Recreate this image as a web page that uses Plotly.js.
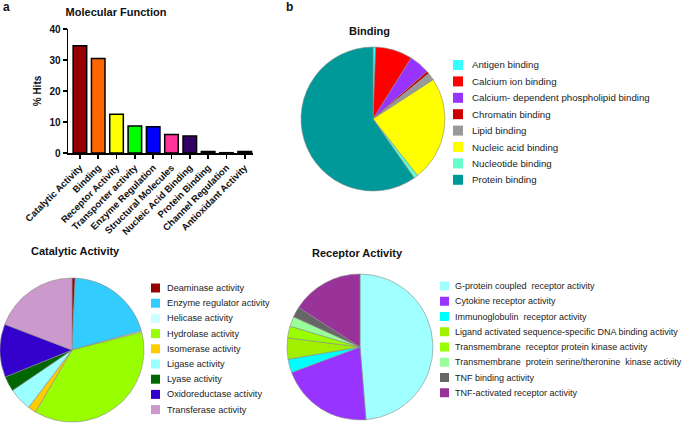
<!DOCTYPE html>
<html>
<head>
<meta charset="utf-8">
<script src="https://cdn.plot.ly/plotly-3.0.1.min.js"></script>
<style>html,body{margin:0;padding:0;background:#fff;} #chart{width:685px;height:426px;}</style>
</head>
<body>
<div id="chart"></div>
<script>
// ---- Molecular Function (bar) ----
const mfCategories = ["Catalytic Activity", "Binding", "Receptor Activity", "Transporter activity",
  "Enzyme Regulation", "Structural Molecules", "Nucleic Acid Binding", "Protein Binding",
  "Channel Regulation", "Antioxidant Activity"];
const mfValues = [34.6, 30.5, 12.5, 8.7, 8.5, 6.0, 5.5, 0.5, 0.1, 0.5];
const mfColors = ["#990000", "#ff6600", "#ffff00", "#00ff00", "#0000ff", "#ff3399", "#330066", "#000000", "#000000", "#000000"];
const mfTicks = [0, 10, 20, 30, 40];

// ---- Binding (pie) ----
const bindLabels = ["Antigen binding", "Calcium ion binding", "Calcium- dependent phospholipid binding",
  "Chromatin binding", "Lipid binding", "Nucleic acid binding", "Nucleotide binding", "Protein binding"];
const bindValues = [0.6, 8.3, 4.6, 0.6, 1.7, 23.6, 0.9, 59.7];
const bindColors = ["#33ffff", "#ff0000", "#9933ff", "#cc0000", "#999999", "#ffff00", "#66ffcc", "#009999"];

// ---- Catalytic Activity (pie) ----
const catLabels = ["Deaminase activity", "Enzyme regulator activity", "Helicase activity", "Hydrolase activity",
  "Isomerase activity", "Ligase activity", "Lyase activity", "Oxidoreductase activity", "Transferase activity"];
const catValues = [0.7, 20.0, 0.3, 37.5, 1.8, 5.2, 3.4, 11.9, 19.2];
const catColors = ["#990000", "#33ccff", "#ccffff", "#99ff00", "#ffcc00", "#99ffff", "#006600", "#3300cc", "#cc99cc"];

// ---- Receptor Activity (pie) ----
const recLabels = ["G-protein coupled  receptor activity", "Cytokine receptor activity", "Immunoglobulin  receptor activity",
  "Ligand activated sequence-specific DNA binding activity", "Transmembrane  receptor protein kinase activity",
  "Transmembrane  protein serine/theronine  kinase activity", "TNF binding activity", "TNF-activated receptor activity"];
const recValues = [48.7, 20.6, 3.0, 4.7, 2.6, 2.2, 2.3, 15.9];
const recColors = ["#a0ffff", "#9933ff", "#00ffff", "#a0f000", "#99ff00", "#99ff99", "#666666", "#993399"];

const W = 685, H = 426;
const FONT = "Liberation Sans, Arial, sans-serif";
const px = v => v / W;
const py = v => 1 - v / H;

function pieTrace(labels, values, colors, cx, cy, r) {
  return {
    type: "pie", labels: labels, values: values, sort: false, direction: "clockwise", rotation: 0,
    marker: {colors: colors, line: {color: "#8a8a8a", width: 0.6}},
    textinfo: "none", showlegend: false, hoverinfo: "label+percent",
    domain: {x: [px(cx - r), px(cx + r)], y: [py(cy + r), py(cy - r)]}
  };
}

const traces = [
  {
    type: "bar", x: mfCategories, y: mfValues,
    marker: {color: mfColors, line: {color: "#000", width: 1.5}},
    width: 0.74, showlegend: false, xaxis: "x", yaxis: "y"
  },
  pieTrace(bindLabels, bindValues, bindColors, 373, 119, 72),
  pieTrace(catLabels, catValues, catColors, 72, 350, 72),
  pieTrace(recLabels, recValues, recColors, 360, 347, 73)
];

const shapes = [];
const annotations = [];

function addLegend(labels, colors, swLeft, swSize, textLeft, firstY, step, fsize) {
  labels.forEach((lab, i) => {
    const yc = firstY + i * step;
    shapes.push({type: "rect", xref: "paper", yref: "paper",
      x0: px(swLeft), x1: px(swLeft + swSize), y0: py(yc + swSize / 2), y1: py(yc - swSize / 2),
      fillcolor: colors[i], line: {width: 0}});
    annotations.push({xref: "paper", yref: "paper", x: px(textLeft), y: py(yc), xanchor: "left", yanchor: "middle",
      text: lab, showarrow: false, font: {family: FONT, size: fsize, color: "#222"}});
  });
}
addLegend(bindLabels, bindColors, 453, 10, 470, 65, 16.4, 9.7);
addLegend(catLabels, catColors, 151, 9, 165, 288, 15.2, 9.2);
addLegend(recLabels, recColors, 440, 9, 453, 286, 15.25, 9);

function addTitle(text, x, y, size) {
  annotations.push({xref: "paper", yref: "paper", x: px(x), y: py(y), xanchor: "center", yanchor: "middle",
    text: text, showarrow: false, font: {family: FONT, size: size, color: "#111", weight: 700}});
}
addTitle("Binding", 369, 31, 11);
addTitle("Catalytic Activity", 75, 251, 11);
addTitle("Receptor Activity", 357, 253, 11);
addTitle("a", 6, 7, 12);
addTitle("b", 289, 7, 12);

const layout = {
  width: W, height: H,
  margin: {l: 0, r: 0, t: 0, b: 0},
  paper_bgcolor: "#fff", plot_bgcolor: "#fff",
  title: {text: "Molecular Function", x: px(116), y: py(12), xanchor: "center", yanchor: "middle",
    font: {family: FONT, size: 11, color: "#111", weight: 700}},
  xaxis: {
    domain: [px(68), px(253)], range: [-0.65, 9.45], automargin: false,
    showline: true, linecolor: "#000", linewidth: 1.5, showgrid: false, zeroline: false,
    ticks: "outside", ticklen: 4, tickwidth: 1.5, tickcolor: "#000",
    tickangle: -45, tickfont: {family: FONT, size: 9.5, color: "#111", weight: 700}
  },
  yaxis: {
    domain: [py(153), py(29)], range: [0, 40], automargin: false,
    tickvals: mfTicks, showline: true, linecolor: "#000", linewidth: 1.5, showgrid: false, zeroline: false,
    ticks: "outside", ticklen: 4, tickwidth: 1.5, tickcolor: "#000",
    tickfont: {family: FONT, size: 10, color: "#111", weight: 700},
    title: {text: "% Hits", standoff: 6, font: {family: FONT, size: 10, color: "#111", weight: 700}}
  },
  shapes: shapes,
  annotations: annotations
};

Plotly.newPlot("chart", traces, layout, {displayModeBar: false, staticPlot: true});
</script>
</body>
</html>
